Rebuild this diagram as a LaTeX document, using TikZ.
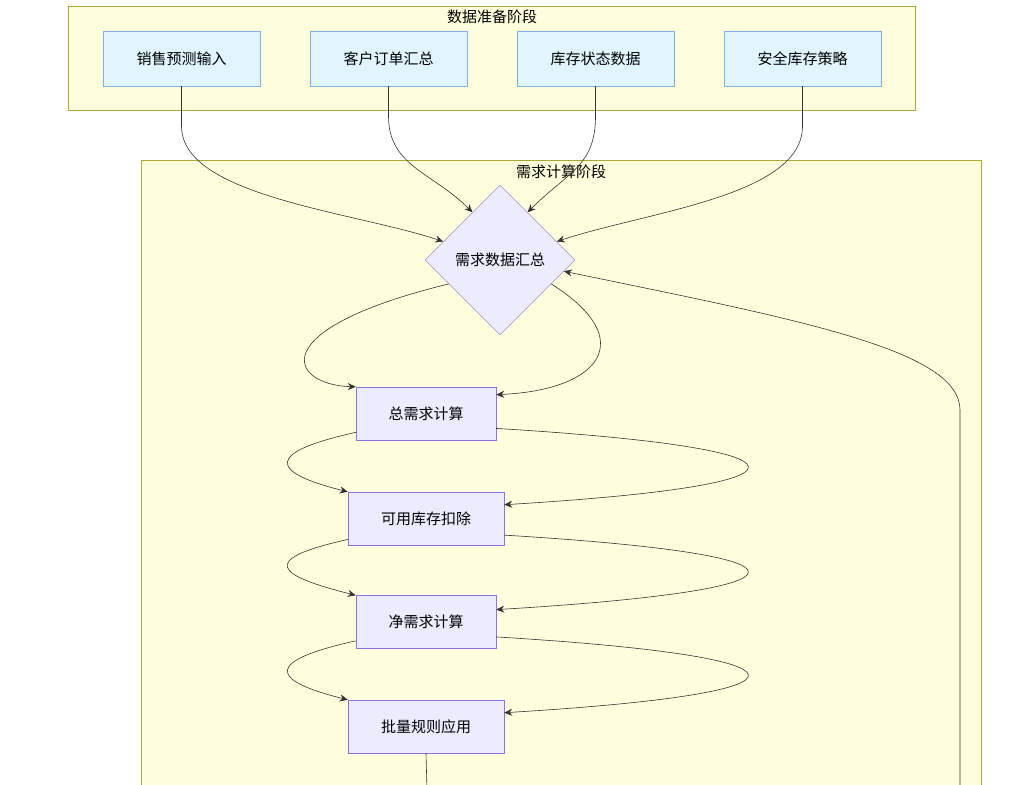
\documentclass[tikz,border=0pt]{standalone}
\usepackage{fontspec}
\setmainfont{Noto Sans CJK SC}
\usetikzlibrary{shapes.geometric,arrows.meta}
\definecolor{clfill}{HTML}{FFFFDE}
\definecolor{cldraw}{HTML}{AAAA33}
\definecolor{infill}{HTML}{E1F5FE}
\definecolor{indraw}{HTML}{7FB2E0}
\definecolor{stfill}{HTML}{ECECFF}
\definecolor{stdraw}{HTML}{9370DB}
\begin{document}
\begin{tikzpicture}[
	x=1pt, y=-1pt,
	font=\fontsize{15pt}{17pt}\selectfont,
	arr/.style = {-{Stealth[length=8pt,width=7pt]}, draw=black!80, semithick},
	cluster/.style = {rectangle, draw=cldraw, fill=clfill, inner sep=0pt},
	inbox/.style = {rectangle, draw=indraw, fill=infill,
		minimum width=157pt, minimum height=55pt},
	step/.style = {rectangle, draw=stdraw, fill=stfill,
		minimum width=#1, minimum height=53pt},
	]
	\useasboundingbox (0,0) rectangle (1024,784);
	
	\node (prep) [cluster, minimum width=847pt, minimum height=104pt] at (491.5,58) {};
	\node at (492,17) {数据准备阶段};
	\node (calc) [cluster, minimum width=840pt, minimum height=640pt] at (561,480) {};
	\node at (561,172) {需求计算阶段};
	%
	\node (in1) [inbox] at (181.5,58.5) {销售预测输入};
	\node (in2) [inbox] at (388.5,58.5) {客户订单汇总};
	\node (in3) [inbox] at (595.5,58.5) {库存状态数据};
	\node (in4) [inbox] at (802.5,58.5) {安全库存策略};
	\node (dm) [diamond, draw=stdraw, fill=stfill, inner sep=0pt,
		minimum width=150pt, minimum height=150pt] at (500,260) {需求数据汇总};
	\node (s1) [step=140pt] at (426,413.5) {总需求计算};
	\node (s2) [step=156pt] at (426,518.5) {可用库存扣除};
	\node (s3) [step=140pt] at (426,622) {净需求计算};
	\node (s4) [step=156pt] at (426,726.5) {批量规则应用};
	\coordinate (out) at (427,790);
	\coordinate (back) at (960,790);
	%
	\draw[arr] (in1.south) -- +(0,40) .. controls +(0,70) and +(-90,-30) .. (dm.162);
	\draw[arr] (in2.south) -- +(0,30) .. controls +(0,50) and +(-40,-40) .. (dm.120);
	\draw[arr] (in3.south) -- +(0,30) .. controls +(0,50) and +(40,-40) .. (dm.60);
	\draw[arr] (in4.south) -- +(0,40) .. controls +(0,70) and +(90,-30) .. (dm.18);
	\draw[arr] (dm.205) .. controls (260,330) and (290,385) .. (s1.north west);
	\draw[arr] (dm.-25) .. controls (640,340) and (600,390) .. (s1.15);
	\foreach \a/\b in {s1/s2, s2/s3, s3/s4} {
		\draw[arr] (\a.-12) .. controls +(330,20) and +(330,-20) .. (\b.10);
		\draw[arr] (\a.-165) .. controls +(-90,20) and +(-80,-20) .. (\b.north west);
	}
	\draw[semithick, black!80] (s4.south) -- (out);
	\draw[arr] (back) -- (960,410) .. controls (960,350) and (800,320) .. (dm.-10);
\end{tikzpicture}
\end{document}
